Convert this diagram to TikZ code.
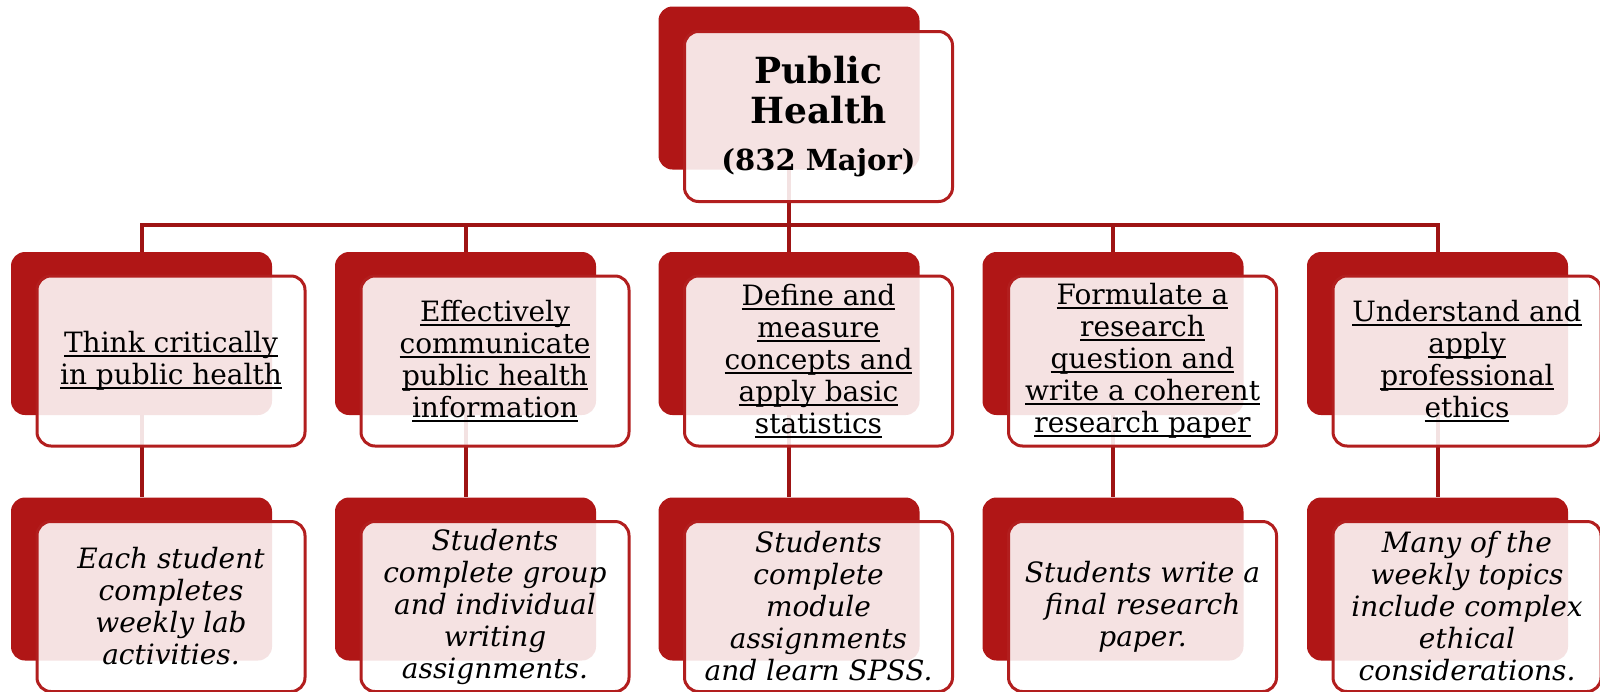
\documentclass[tikz,border=0pt]{standalone}
\usepackage{fontspec}
\setmainfont{DejaVu Serif}
\usetikzlibrary{positioning}
\definecolor{boxred}{RGB}{176,22,22}
\definecolor{edgered}{RGB}{178,30,30}
\definecolor{linkred}{RGB}{158,20,20}
\newcommand{\undl}[1]{\setbox0\hbox{#1}\rlap{\rule[-2pt]{\wd0}{0.8pt}}\box0}

\begin{document}
\begin{tikzpicture}[x=0.5pt,y=-0.5pt,
    backbox/.style={rectangle,rounded corners=7pt,fill=boxred,inner sep=0pt,
      minimum width=130.5pt,minimum height=81.5pt},
    frontbox/.style={rectangle,rounded corners=7pt,draw=edgered,line width=1.5pt,
      fill=white,fill opacity=0.88,text opacity=1,inner sep=0pt,align=center,
      minimum width=134pt,minimum height=85pt,font=\fontsize{14}{16}\selectfont},
    taskbox/.style={frontbox,font=\itshape\fontsize{14}{16}\selectfont},
    link/.style={draw=linkred,line width=2pt}]
  \useasboundingbox (0,0) rectangle (1600,691);

  % back boxes
  \node[backbox] (top) at (789,88) {};
  \node[backbox] (g1) at (141.5,333.5) {};
  \node[backbox] (g2) at (465.5,333.5) {};
  \node[backbox] (g3) at (789,333.5) {};
  \node[backbox] (g4) at (1113,333.5) {};
  \node[backbox] (g5) at (1437.5,333.5) {};
  \node[backbox] (a1) at (141.5,579) {};
  \node[backbox] (a2) at (465.5,579) {};
  \node[backbox] (a3) at (789,579) {};
  \node[backbox] (a4) at (1113,579) {};
  \node[backbox] (a5) at (1437.5,579) {};

  % connectors
  \coordinate (bus) at (789,225);
  \draw[link] (top.south) -- (bus) -| (g1.north);
  \draw[link] (bus) -| (g2.north);
  \draw[link] (bus) -- (g3.north);
  \draw[link] (bus) -| (g4.north);
  \draw[link] (bus) -| (g5.north);
  \draw[link] (g1.south) -- (a1.north);
  \draw[link] (g2.south) -- (a2.north);
  \draw[link] (g3.south) -- (a3.north);
  \draw[link] (g4.south) -- (a4.north);
  \draw[link] (g5.south) -- (a5.north);

  % front boxes
  \node[frontbox,font=\bfseries\fontsize{18}{20}\selectfont] (topf) at ([shift={(29.5,28.5)}]top)
    {Public\\Health\\[3.5pt]{\fontsize{14.5}{17}\selectfont (832 Major)}};
  \node[frontbox] (g1f) at ([shift={(29.5,27.5)}]g1)
    {\undl{Think critically}\\\undl{in public health}};
  \node[frontbox] (g2f) at ([shift={(29.5,27.5)}]g2)
    {\undl{Effectively}\\\undl{communicate}\\\undl{public health}\\\undl{information}};
  \node[frontbox] (g3f) at ([shift={(29.5,27.5)}]g3)
    {\undl{Define and}\\\undl{measure}\\\undl{concepts and}\\\undl{apply basic}\\\undl{statistics}};
  \node[frontbox] (g4f) at ([shift={(29.5,27.5)}]g4)
    {\undl{Formulate a}\\\undl{research}\\\undl{question and}\\\undl{write a coherent}\\\undl{research paper}};
  \node[frontbox] (g5f) at ([shift={(29.5,27.5)}]g5)
    {\undl{Understand and}\\\undl{apply}\\\undl{professional}\\\undl{ethics}};
  \node[taskbox] (a1f) at ([shift={(29.5,27.5)}]a1)
    {Each student\\completes\\weekly lab\\activities.};
  \node[taskbox] (a2f) at ([shift={(29.5,27.5)}]a2)
    {Students\\complete group\\and individual\\writing\\assignments.};
  \node[taskbox] (a3f) at ([shift={(29.5,27.5)}]a3)
    {Students\\complete\\module\\assignments\\and learn SPSS.};
  \node[taskbox] (a4f) at ([shift={(29.5,27.5)}]a4)
    {Students write a\\final research\\paper.};
  \node[taskbox] (a5f) at ([shift={(29.5,27.5)}]a5)
    {Many of the\\weekly topics\\include complex\\ethical\\considerations.};
\end{tikzpicture}
\end{document}
